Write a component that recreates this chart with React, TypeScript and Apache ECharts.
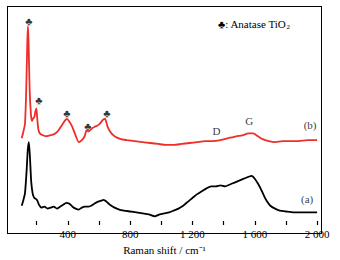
import React, { useEffect, useRef } from "react";
import * as echarts from "echarts";

const shiftA = [104,115,125,135,143,150,157,165,175,185,195,205,215,230,250,270,290,310,330,350,370,390,410,430,450,470,490,510,530,550,570,590,610,630,650,670,700,730,760,800,840,880,920,957,990,1020,1050,1080,1110,1140,1170,1200,1230,1260,1290,1320,1350,1380,1410,1440,1470,1500,1530,1560,1580,1600,1620,1640,1660,1680,1700,1730,1760,1800,1850,1900,1950,2000];
const intensityA = [20,26,33,55,78,86,70,45,32,28,27,25,21,18,19,17,18,19,17,19,21,23,22,19,17,16,18,19,19,20,22,24,25,26,24,21,18,16,15,14,13,12,11,9,11,12,13,15,17,20,24,28,32,35,38,40,40,41,40,42,44,46,48,50,51,48,43,37,30,24,20,17,15,14,13,13,13,13];

const shiftB = [104,115,125,133,140,144,148,155,163,170,176,185,192,198,203,210,220,240,260,285,310,335,360,380,395,410,425,445,470,490,508,520,535,553,575,600,625,639,655,675,700,740,780,830,880,930,980,1030,1080,1130,1180,1230,1280,1330,1380,1430,1480,1520,1560,1590,1620,1650,1690,1730,1780,1830,1880,1940,2000];
const intensityB = [90,97,105,140,190,206,190,140,115,108,110,112,118,121,112,100,95,93,92,93,94,97,103,108,110,107,103,95,86,88,92,98,97,100,102,104,109,110,102,96,92,89,88,87,86,85,84,83,83,84,85,86,87,87,88,90,92,93,95,95,92,89,87,86,87,87,87,88,88];

const noteX = [150, 214, 394, 528, 650, 1354, 1565, 1955, 1936];
const noteY = [212, 130, 116, 103, 116, 97, 108, 104, 27];
const noteText = ["♣", "♣", "♣", "♣", "♣", "D", "G", "(b)", "(a)"];

const tickValues = [200, 400, 600, 800, 1000, 1200, 1400, 1600, 1800, 2000];
const labelValues = [400, 800, 1200, 1600, 2000];

const SERIF = "Liberation Serif";
const GRID = { left: 8, top: 7, right: 19, bottom: 27 };
const W = 340;
const H = 260;

export default function App() {
  const ref = useRef<HTMLDivElement>(null);
  useEffect(() => {
    const chart = echarts.init(ref.current!, null, { renderer: "svg" });
    chart.setOption({
      animation: false,
      backgroundColor: "#ffffff",
      grid: GRID,
      xAxis: {
        type: "value",
        min: 16,
        max: 2025,
        name: "Raman shift / cm⁻¹",
        nameLocation: "middle",
        nameGap: 19,
        nameTextStyle: { fontFamily: SERIF, fontSize: 11, color: "#000" },
        axisLine: { show: false },
        axisTick: { show: true, inside: true, length: 4, customValues: tickValues, lineStyle: { color: "#000", width: 1.2 } },
        axisLabel: {
          customValues: labelValues,
          fontFamily: SERIF, fontSize: 11, color: "#000", margin: 3,
          formatter: (v: number) => (v >= 1000 ? String(v).replace(/(\d)(\d{3})$/, "$1 $2") : String(v)),
        },
        splitLine: { show: false },
      },
      yAxis: {
        type: "value",
        min: 0,
        max: 226,
        axisLine: { show: false },
        axisTick: { show: false },
        axisLabel: { show: false },
        splitLine: { show: false },
      },
      series: [
        {
          type: "line",
          data: shiftA.map((x, i) => [x, intensityA[i]]),
          showSymbol: false,
          lineStyle: { color: "#000", width: 1.8 },
          smooth: 0.2,
        },
        {
          type: "line",
          data: shiftB.map((x, i) => [x, intensityB[i]]),
          showSymbol: false,
          lineStyle: { color: "#ee2e28", width: 1.8 },
          smooth: 0.2,
        },
        {
          type: "scatter",
          symbolSize: 0,
          data: noteX.map((x, i) => [x, noteY[i]]),
          label: {
            show: true,
            position: "inside",
            formatter: (p: any) => noteText[p.dataIndex],
            fontFamily: SERIF,
            fontSize: 11,
            color: "#000",
          },
        },
      ],
      graphic: [
        {
          type: "text",
          left: 218,
          top: 18,
          style: {
            text: "♣: Anatase TiO{s|2}",
            fontFamily: SERIF,
            fontSize: 11,
            fill: "#000",
            rich: { s: { fontSize: 7, fontFamily: SERIF, verticalAlign: "bottom", padding: [6, 0, 0, 0] } },
          },
        },
      ],
    });
    return () => chart.dispose();
  }, []);
  return (
    <div style={{ position: "fixed", left: 0, top: 0, width: W, height: H, background: "#fff" }}>
      <div ref={ref} style={{ position: "absolute", left: 0, top: 0, width: W, height: H }} />
      <div
        style={{
          position: "absolute",
          left: GRID.left - 1,
          top: GRID.top - 1,
          width: W - GRID.left - GRID.right + 2,
          height: H - GRID.top - GRID.bottom + 2,
          border: "1.5px solid #000",
          boxSizing: "border-box",
          pointerEvents: "none",
        }}
      />
    </div>
  );
}
